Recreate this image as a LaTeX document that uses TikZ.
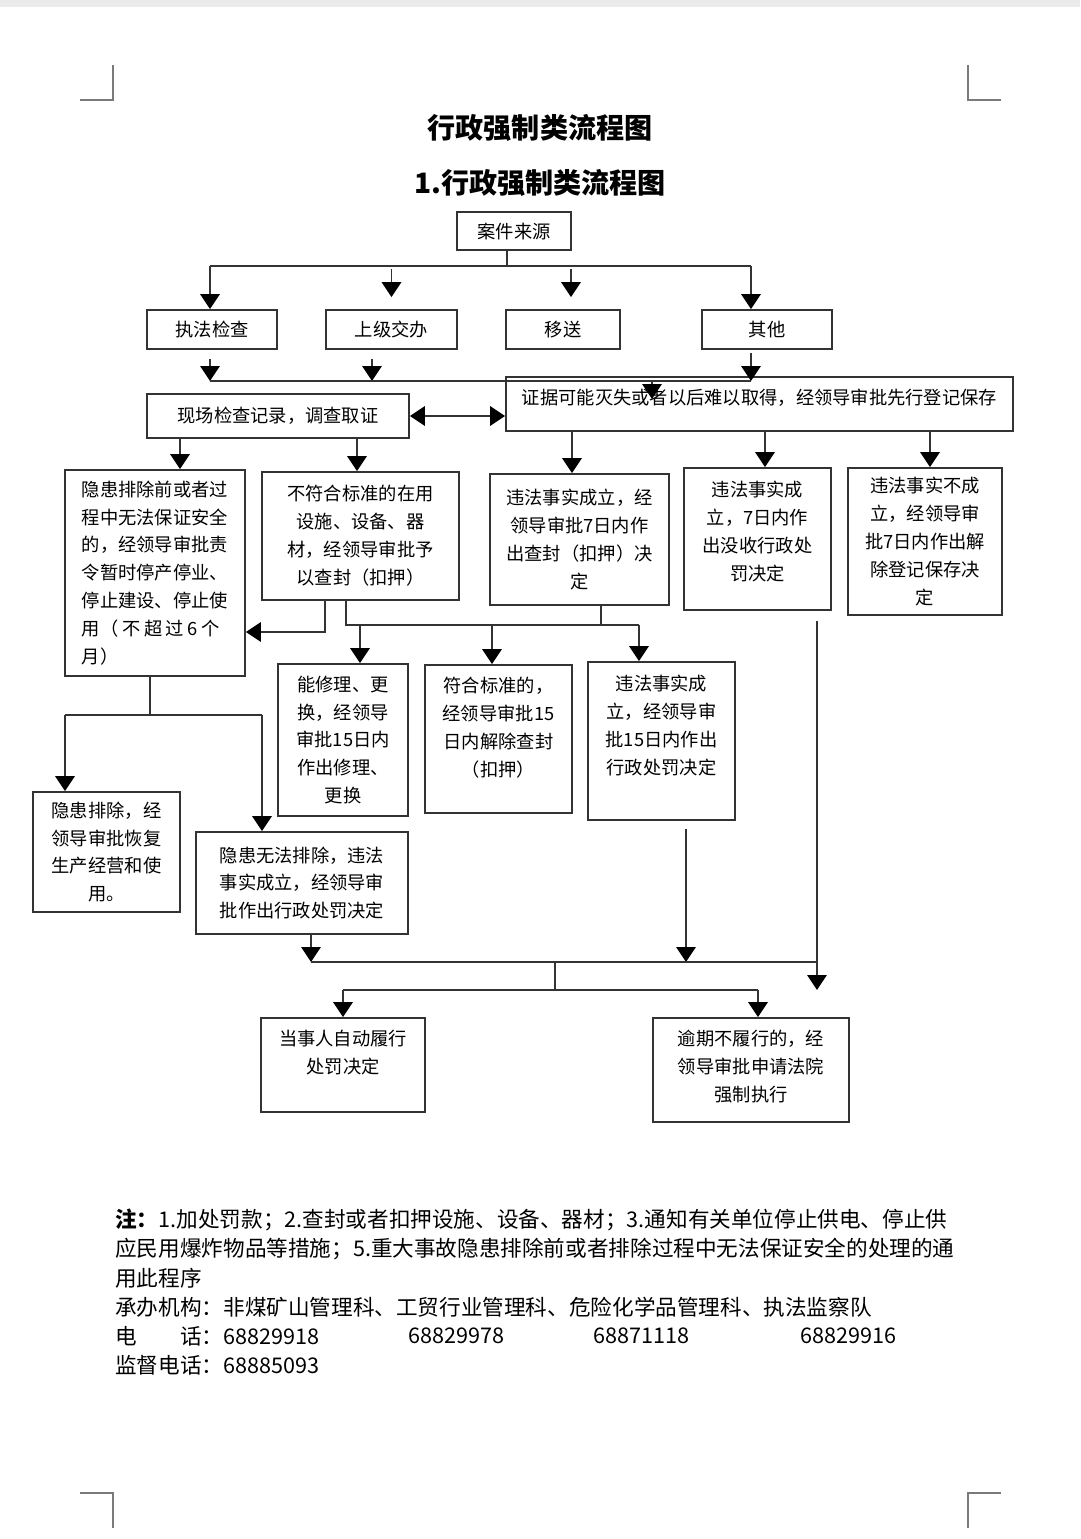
\documentclass[tikz,border=0pt]{standalone}
\usepackage{fontspec}
\setmainfont{Noto Sans CJK SC}
\usetikzlibrary{arrows.meta,calc}
\definecolor{lc}{HTML}{333333}
\definecolor{cropc}{HTML}{7A7A7A}
\newcommand\bxfont{\fontsize{10.4pt}{15.9pt}\selectfont}
\newcommand\ntfont{\fontsize{12.3pt}{14pt}\selectfont}
\begin{document}
\begin{tikzpicture}[x=0.02cm,y=-0.02cm,
  box/.style={draw=lc,line width=1pt,inner sep=2pt,align=center,font=\bxfont},
  sz/.style 2 args={minimum width=#1*0.02cm,minimum height=#2*0.02cm},
  lift/.style={text depth=#1},
  ln/.style={draw=lc,line width=1.1pt},
  arr/.style={ln,-{Triangle[width=11pt,length=8.5pt,color=black]}},
  arr2/.style={ln,{Triangle[width=11pt,length=8.5pt,color=black]}-{Triangle[width=11pt,length=8.5pt,color=black]}},
  note/.style={anchor=west,inner sep=0pt,font=\ntfont}]
\fill[white] (0,0) rectangle (1080,1539);
\fill[black!8] (0,0) rectangle (1080,7);
\useasboundingbox (0,0) rectangle (1080,1539);
\draw[cropc,line width=1pt] (80,100) -| (113,65);
\draw[cropc,line width=1pt] (1001,100) -| (968,65);
\draw[cropc,line width=1pt] (80,1493) -| (113,1528);
\draw[cropc,line width=1pt] (1001,1493) -| (968,1528);
\node[font=\fontsize{16pt}{18pt}\selectfont\bfseries] (title) at (540,128) {行政强制类流程图};
\node[font=\fontsize{16pt}{18pt}\selectfont\bfseries] (subtitle) at (540,183) {1.行政强制类流程图};
\node[box,sz={114}{38}] (src) at (514,231) {案件来源};
\node[box,sz={130}{39}] (zf) at (212,329.5) {执法检查};
\node[box,sz={131}{39}] (sj) at (391.5,329.5) {上级交办};
\node[box,sz={114}{39}] (ys) at (563,329.5) {移送};
\node[box,sz={130}{39}] (qt) at (767,329.5) {其他};
\node[box,sz={262}{44}] (xc) at (278,416) {现场检查记录，调查取证};
\node[box,sz={507}{54},lift=0.28cm] (zj) at (759.5,404) {证据可能灭失或者以后难以取得，经领导审批先行登记保存};
\node[box,sz={180}{206},align=left] (ya) at (155,573) {隐患排除前或者过\\程中无法保证安全\\的，经领导审批责\\令暂时停产停业、\\停止建设、停止使\\用（\hspace{0.2em}不\hspace{0.2em}超\hspace{0.2em}过\hspace{0.2em}6\hspace{0.2em}个\\月）};
\node[box,sz={197}{128}] (bf) at (360.5,536) {不符合标准的在用\\设施、设备、器\\材，经领导审批予\\以查封（扣押）};
\node[box,sz={179}{131}] (wf) at (579.5,539.5) {违法事实成立，经\\领导审批7日内作\\出查封（扣押）决\\定};
\node[box,sz={147}{142},lift=0.32cm] (ms) at (757.5,539) {违法事实成\\立，7日内作\\出没收行政处\\罚决定};
\node[box,sz={154}{147}] (bc) at (925,541.5) {违法事实不成\\立，经领导审\\批7日内作出解\\除登记保存决\\定};
\node[box,sz={130}{152}] (xl) at (343,740) {能修理、更\\换，经领导\\审批15日内\\作出修理、\\更换};
\node[box,sz={147}{148},lift=0.48cm] (fh) at (498.5,739) {符合标准的，\\经领导审批15\\日内解除查封\\（扣押）};
\node[box,sz={147}{158},lift=0.64cm] (cf) at (661.5,741) {违法事实成\\立，经领导审\\批15日内作出\\行政处罚决定};
\node[box,sz={147}{120}] (pc) at (106.5,852) {隐患排除，经\\领导审批恢复\\生产经营和使\\用。};
\node[box,sz={212}{102}] (wfpc) at (302,883) {隐患无法排除，违法\\事实成立，经领导审\\批作出行政处罚决定};
\node[box,sz={164}{94},lift=0.52cm] (zd) at (343,1065) {当事人自动履行\\处罚决定};
\node[box,sz={196}{104},lift=0.16cm] (qz) at (751,1070) {逾期不履行的，经\\领导审批申请法院\\强制执行};
\coordinate (j1) at (507,266);
\coordinate (j1l) at (210,266);
\coordinate (j1r) at (751,266);
\coordinate (j2l) at (210,381);
\coordinate (j2m) at (372,381);
\coordinate (j2r) at (751,381);
\coordinate (j2e) at (652,381);
\coordinate (j3) at (325,632);
\coordinate (j4) at (346,625);
\coordinate (j4c) at (601,625);
\coordinate (j4r) at (639,625);
\coordinate (j5) at (150,715);
\coordinate (j5l) at (65,715);
\coordinate (j5r) at (262,715);
\coordinate (j6l) at (311,962);
\coordinate (j6) at (555,962);
\coordinate (j6r) at (817,962);
\coordinate (j7) at (555,990);
\coordinate (j7l) at (343,990);
\coordinate (j7r) at (758,990);
\draw[ln] (src.south -| j1) -- (j1);
\draw[ln] (j1l) -- (j1r);
\draw[arr] (j1l) -- (zf.north -| j1l);
\draw[arr] (j1r) -- (qt.north -| j1r);
\draw[arr] ($(sj.north)+(0,-40)$) -- ($(sj.north)+(0,-12)$);
\draw[arr] ($(ys.north)+(8,-40)$) -- ($(ys.north)+(8,-12)$);
\draw[arr] (j2l |- zf.south) ++(0,9) -- (j2l);
\draw[arr] (j2m |- sj.south) ++(0,9) -- (j2m);
\draw[arr] (j2r |- qt.south) ++(0,3) -- (j2r);
\draw[ln] (j2l) -- (j2r);
\draw[arr] (j2e) -- ++(0,18);
\draw[arr2] (xc.east) -- (zj.west |- xc.east);
\draw[arr] (xc.south -| 180,0) -- (ya.north -| 180,0);
\draw[arr] (xc.south -| 357,0) -- (bf.north -| 357,0);
\draw[arr] (zj.south -| 572,0) -- (wf.north -| 572,0);
\draw[arr] (zj.south -| 765,0) -- (ms.north -| 765,0);
\draw[arr] (zj.south -| 930,0) -- (bc.north -| 930,0);
\draw[arr] (bf.south -| j3) -- (j3) -- (ya.east |- j3);
\draw[ln] (bf.south -| j4) -- (j4) -- (j4r);
\draw[ln] (wf.south -| j4c) -- (j4c);
\draw[arr] (j4 -| 360,0) -- (xl.north -| 360,0);
\draw[arr] (j4 -| 492,0) -- (fh.north -| 492,0);
\draw[arr] (j4r) -- (cf.north -| j4r);
\draw[ln] (ya.south -| j5) -- (j5);
\draw[ln] (j5l) -- (j5r);
\draw[arr] (j5l) -- (pc.north -| j5l);
\draw[arr] (j5r) -- (wfpc.north -| j5r);
\draw[arr] (wfpc.south -| j6l) -- (j6l);
\draw[arr] (cf.south -| 686,0) ++(0,8) -- (j6l -| 686,0);
\draw[arr] (ms.south -| j6r) ++(0,10) -- ($(j6r)+(0,28)$);
\draw[ln] (j6l) -- (j6r);
\draw[ln] (j6) -- (j7);
\draw[ln] (j7l) -- (j7r);
\draw[arr] (j7l) -- (zd.north -| j7l);
\draw[arr] (j7r) -- (qz.north -| j7r);
\node[note] (n1) at (115,1220) {\textbf{注：}1.加处罚款；2.查封或者扣押设施、设备、器材；3.通知有关单位停止供电、停止供};
\node[note] (n2) at (115,1249) {应民用爆炸物品等措施；5.重大事故隐患排除前或者排除过程中无法保证安全的处理的通};
\node[note] (n3) at (115,1278) {用此程序};
\node[note] (n4) at (115,1307) {承办机构：非煤矿山管理科、工贸行业管理科、危险化学品管理科、执法监察队};
\node[note] (n5) at (115,1336) {电\hspace{2em}话：68829918};
\node[note] (tel2) at (408,1336) {68829978};
\node[note] (tel3) at (593,1336) {68871118};
\node[note] (tel4) at (800,1336) {68829916};
\node[note] (n6) at (115,1365) {监督电话：68885093};
\end{tikzpicture}
\end{document}
